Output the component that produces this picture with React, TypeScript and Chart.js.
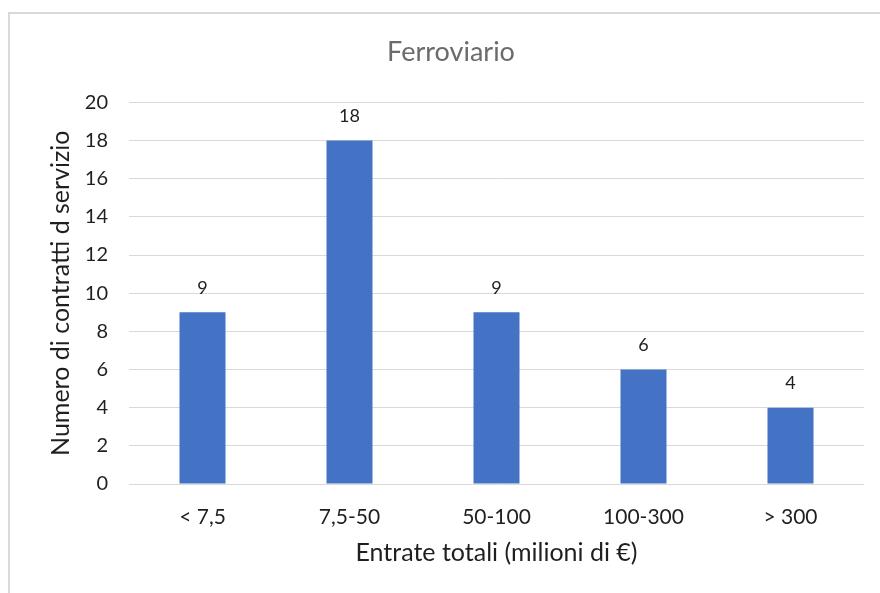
import React, { useEffect, useRef } from "react";
import { Chart, registerables } from "chart.js";

Chart.register(...registerables);

const categories = ["< 7,5", "7,5-50", "50-100", "100-300", "> 300"];
const contracts = [9, 18, 9, 6, 4];
const yTicks = [0, 2, 4, 6, 8, 10, 12, 14, 16, 18, 20];

const FONT = "Lato, 'Open Sans', sans-serif";

// Writes each bar's value just above its top edge.
const barValueLabels = {
  id: "barValueLabels",
  afterDatasetsDraw(chart: any) {
    const { ctx } = chart;
    const meta = chart.getDatasetMeta(0);
    const values = chart.data.datasets[0].data as number[];
    ctx.save();
    ctx.font = `18px ${FONT}`;
    ctx.fillStyle = "#1f1f1f";
    ctx.textAlign = "center";
    ctx.textBaseline = "middle";
    meta.data.forEach((bar: any, i: number) => {
      ctx.fillText(String(values[i]), bar.x, bar.y - 24);
    });
    ctx.restore();
  },
};

export default function App() {
  const canvasRef = useRef<HTMLCanvasElement | null>(null);

  useEffect(() => {
    if (!canvasRef.current) return;
    const chart = new Chart(canvasRef.current, {
      type: "bar",
      data: {
        labels: categories,
        datasets: [
          {
            data: contracts,
            backgroundColor: "#4472C4",
            borderWidth: 0,
            categoryPercentage: 1,
            barPercentage: 0.313,
          },
        ],
      },
      options: {
        responsive: false,
        animation: false,
        layout: { padding: { left: 28, right: 32, top: 0, bottom: 0 } },
        plugins: {
          legend: { display: false },
          tooltip: { enabled: false },
          title: {
            display: true,
            text: "Ferroviario",
            color: "#6b6b6b",
            font: { family: FONT, size: 27, weight: "normal" },
            padding: { top: 22, bottom: 34 },
          },
        },
        scales: {
          x: {
            grid: { display: false },
            border: { display: false },
            ticks: {
              color: "#1f1f1f",
              font: { family: FONT, size: 21 },
              padding: 13,
              maxRotation: 0,
            },
            title: {
              display: true,
              text: "Entrate totali (milioni di €)",
              color: "#1f1f1f",
              font: { family: FONT, size: 25 },
              padding: { top: 0, bottom: 42 },
            },
            afterFit(scale: any) {
              scale.height = 126;
            },
          },
          y: {
            min: 0,
            max: 20,
            grid: { color: "#d9d9d9", lineWidth: 1, drawTicks: false },
            border: { display: false },
            afterBuildTicks(scale: any) {
              scale.ticks = yTicks.map((v) => ({ value: v }));
            },
            ticks: {
              color: "#1f1f1f",
              font: { family: FONT, size: 20 },
              padding: 21,
            },
            title: {
              display: true,
              text: "Numero di contratti d servizio",
              color: "#1f1f1f",
              font: { family: FONT, size: 25 },
              padding: { top: 8, bottom: 0 },
            },
            afterFit(scale: any) {
              scale.width = 91;
            },
          },
        },
      },
      plugins: [barValueLabels],
    });
    return () => chart.destroy();
  }, []);

  return (
    <div
      style={{
        position: "fixed",
        left: 8,
        top: 12,
        width: 890,
        height: 600,
        boxSizing: "border-box",
        border: "2px solid #d9d9d9",
        background: "#ffffff",
      }}
    >
      <canvas ref={canvasRef} width={886} height={596} style={{ display: "block" }} />
    </div>
  );
}
